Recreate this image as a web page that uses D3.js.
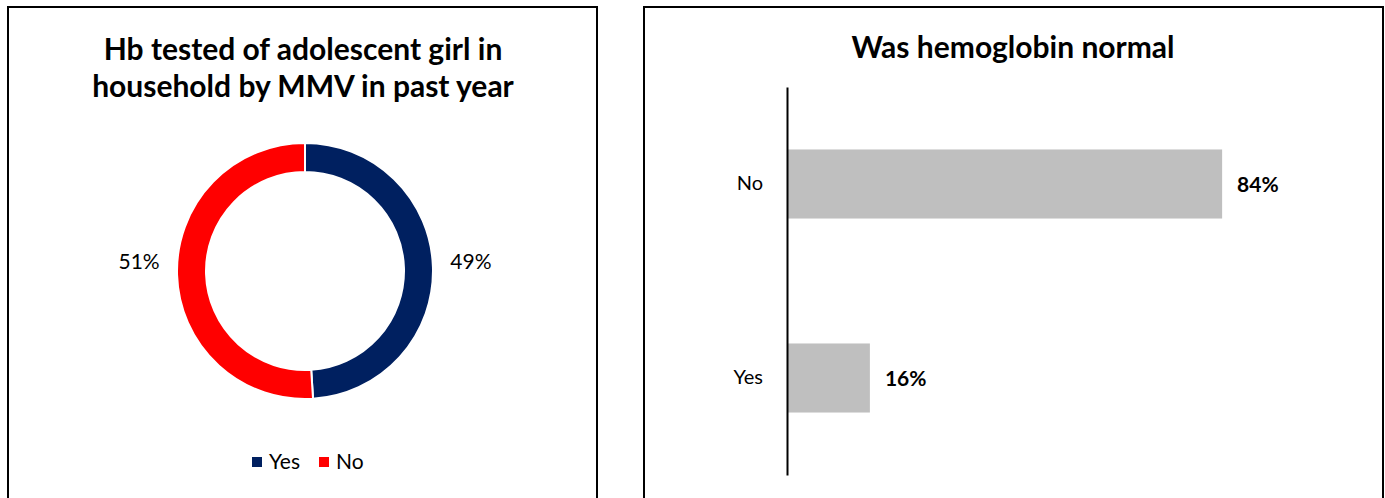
<!DOCTYPE html>
<html>
<head>
<meta charset="utf-8">
<script src="https://cdn.jsdelivr.net/npm/d3@7"></script>
<style>
  body { margin: 0; background: #fff; }
  text { font-family: Lato, "Open Sans", sans-serif; fill: #000; }
</style>
</head>
<body>
<div id="chart"></div>
<script>

// donut data
const pieCategories = ["Yes", "No"];
const pieValues = [49, 51];
const pieColors = ["#002060", "#FF0000"];

// bar data
const barCategories = ["No", "Yes"];
const barValues = [84, 16];

function main() {

    const svg = d3.select("#chart")
        .append("svg")
        .attr("width", 1385)
        .attr("height", 498);

    // panel frames (bottom runs off the picture)
    svg.append("rect")
        .attr("x", 8).attr("y", 7)
        .attr("width", 589).attr("height", 510)
        .attr("fill", "none").attr("stroke", "#000").attr("stroke-width", 2);
    svg.append("rect")
        .attr("x", 644).attr("y", 7)
        .attr("width", 739).attr("height", 510)
        .attr("fill", "none").attr("stroke", "#000").attr("stroke-width", 2);

    // ---------- left: donut ----------
    const left = svg.append("g");

    left.append("text")
        .attr("x", 303).attr("y", 60)
        .attr("text-anchor", "middle")
        .attr("font-size", "30px").attr("font-weight", "bold")
        .text("Hb tested of adolescent girl in");
    left.append("text")
        .attr("x", 303).attr("y", 97)
        .attr("text-anchor", "middle")
        .attr("font-size", "30px").attr("font-weight", "bold")
        .text("household by MMV in past year");

    const pieData = pieCategories.map((c, i) => ({ cat: c, value: pieValues[i] }));
    const pie = d3.pie().value(d => d.value).sort(null);
    const arcs = pie(pieData);
    const arc = d3.arc().innerRadius(99).outerRadius(128);
    const color = d3.scaleOrdinal().domain(pieCategories).range(pieColors);

    const donut = left.append("g").attr("transform", "translate(305,271)");
    donut.selectAll("path")
        .data(arcs)
        .join("path")
        .attr("d", arc)
        .attr("fill", d => color(d.data.cat))
        .attr("stroke", "#fff")
        .attr("stroke-width", 2);

    // labels sit beside the ring, a little above the centre line
    const labelArc = d3.arc().innerRadius(166).outerRadius(166);
    donut.selectAll("text.val")
        .data(arcs)
        .join("text")
        .attr("class", "val")
        .attr("x", d => labelArc.centroid(d)[0])
        .attr("y", -9)
        .attr("dy", "0.35em")
        .attr("text-anchor", "middle")
        .attr("font-size", "21px")
        .text(d => d.data.value + "%");

    // legend
    const legend = left.append("g").attr("transform", "translate(252,462)");
    const legX = [0, 67];
    pieCategories.forEach((c, i) => {
        legend.append("rect")
            .attr("x", legX[i]).attr("y", -5)
            .attr("width", 10).attr("height", 10)
            .attr("fill", color(c));
        legend.append("text")
            .attr("x", legX[i] + 17).attr("y", 0)
            .attr("dy", "0.35em")
            .attr("font-size", "21px")
            .text(c);
    });

    // ---------- right: bars ----------
    const right = svg.append("g");

    right.append("text")
        .attr("x", 1013).attr("y", 58)
        .attr("text-anchor", "middle")
        .attr("font-size", "30px").attr("font-weight", "bold")
        .text("Was hemoglobin normal");

    const x = d3.scaleLinear().domain([0, 100]).range([787, 1305]);
    const y = d3.scaleBand()
        .domain(barCategories)
        .range([87, 475])
        .paddingInner(0.644)
        .paddingOuter(0.322);

    right.selectAll("rect.bar")
        .data(barCategories)
        .join("rect")
        .attr("class", "bar")
        .attr("x", x(0))
        .attr("y", d => y(d))
        .attr("width", (d, i) => x(barValues[i]) - x(0))
        .attr("height", y.bandwidth())
        .attr("fill", "#BFBFBF");

    right.selectAll("text.lbl")
        .data(barCategories)
        .join("text")
        .attr("class", "lbl")
        .attr("x", (d, i) => x(barValues[i]) + 15)
        .attr("y", d => y(d) + y.bandwidth() / 2 + 1)
        .attr("dy", "0.35em")
        .attr("font-size", "21px").attr("font-weight", "bold")
        .text((d, i) => barValues[i] + "%");

    const yAxis = right.append("g")
        .attr("transform", `translate(${x(0)},0)`)
        .call(d3.axisLeft(y).tickSize(0).tickPadding(24));
    yAxis.select(".domain").attr("stroke", "#000").attr("stroke-width", 2);
    yAxis.selectAll("text")
        .attr("font-size", "20px")
        .attr("font-family", "Lato, 'Open Sans', sans-serif")
        .attr("fill", "#000");
}

main()
</script>
</body>
</html>
